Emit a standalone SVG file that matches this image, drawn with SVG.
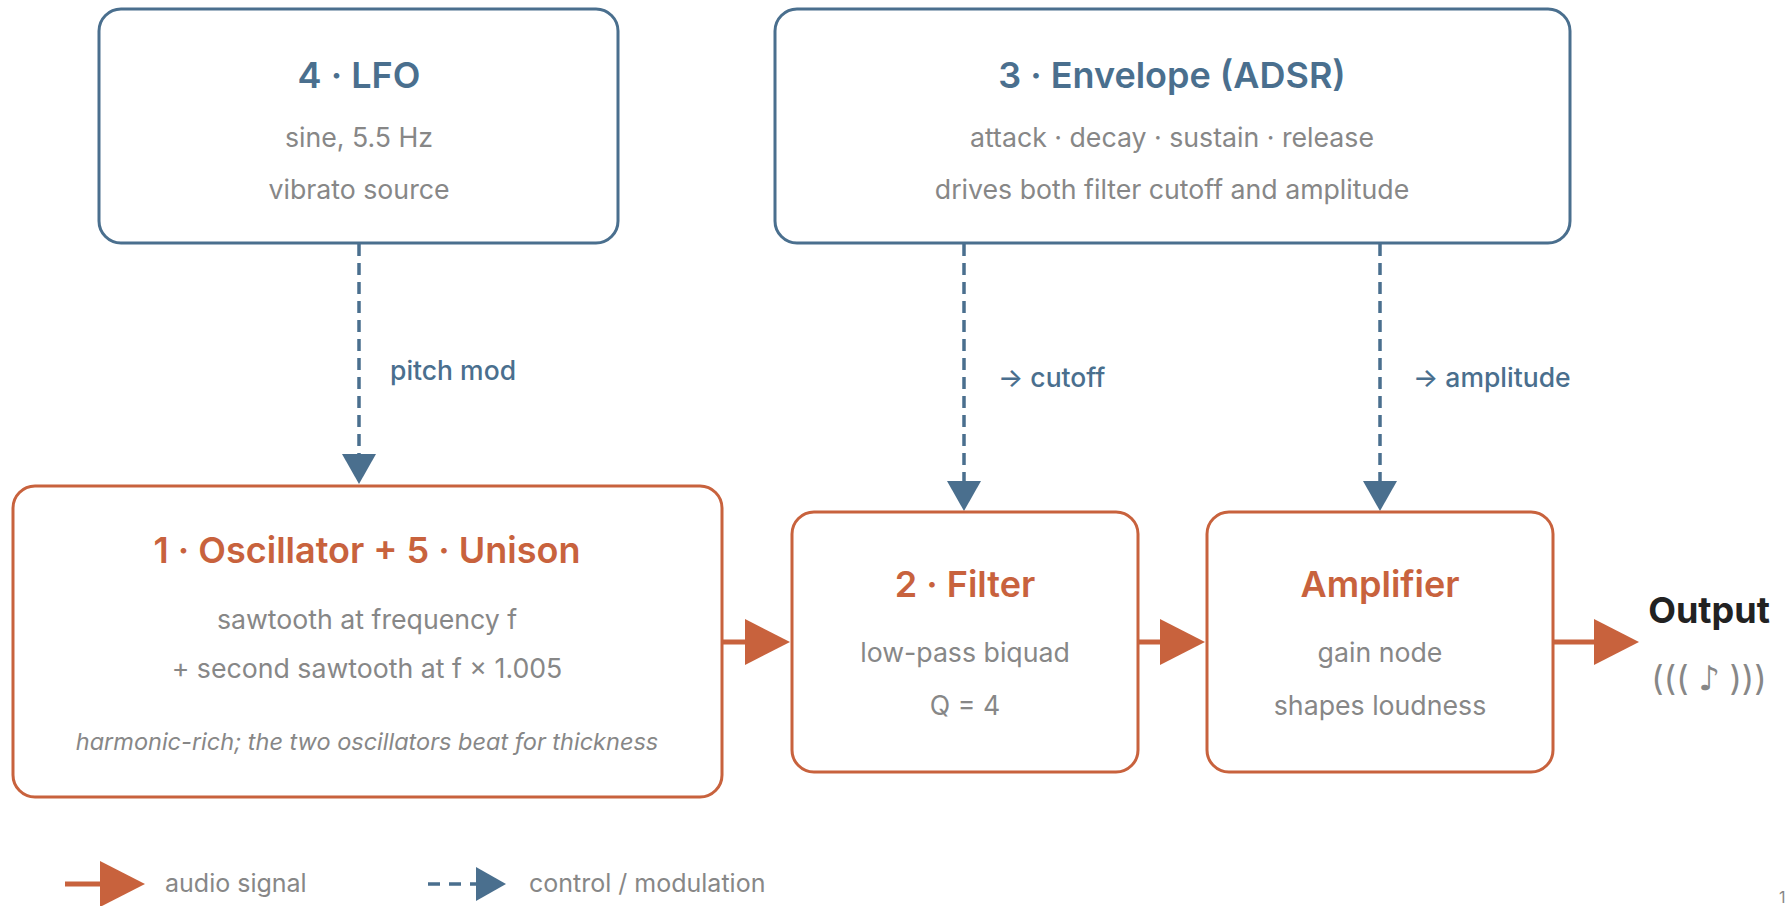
<svg xmlns="http://www.w3.org/2000/svg" width="1785" height="906" viewBox="0 0 1785 906">
<style>
  text { font-family: Inter, "Liberation Sans", Arial, sans-serif; }
  .box-ctl { fill: #ffffff; stroke: #4a6f8e; stroke-width: 3; }
  .box-aud { fill: #ffffff; stroke: #c8623d; stroke-width: 3; }
  .t-ctl { fill: #4a6f8e; font-size: 36px; font-weight: 600; text-anchor: middle; }
  .t-aud { fill: #c8623d; font-size: 36px; font-weight: 600; text-anchor: middle; }
  .sub { fill: #878787; font-size: 26.7px; text-anchor: middle; }
  .note { fill: #878787; font-size: 23.5px; font-style: italic; text-anchor: middle; }
  .lbl { fill: #4a6f8e; font-size: 26.5px; font-weight: 500; }
  .leg { fill: #878787; font-size: 25px; }
  .aud { stroke: #c8623d; stroke-width: 5; fill: none; }
  .ctl { stroke: #4a6f8e; stroke-width: 3.5; fill: none; stroke-dasharray: 12 7; }
</style>
<defs>
  <marker id="ah-aud" markerUnits="userSpaceOnUse" markerWidth="46" markerHeight="46" refX="15" refY="23" orient="auto">
    <path d="M0,0 L45,23 L0,46 Z" fill="#c8623d"/>
  </marker>
  <marker id="ah-ctl" markerUnits="userSpaceOnUse" markerWidth="31" markerHeight="34" refX="16" refY="17" orient="auto">
    <path d="M0,0 L30,17 L0,34 Z" fill="#4a6f8e"/>
  </marker>
</defs>
<rect width="1785" height="906" fill="#ffffff"/>

<g id="connectors">
  <line class="ctl" x1="359" y1="244" x2="359" y2="470" marker-end="url(#ah-ctl)"/>
  <line class="ctl" x1="964" y1="244" x2="964" y2="497" marker-end="url(#ah-ctl)"/>
  <line class="ctl" x1="1380" y1="244" x2="1380" y2="497" marker-end="url(#ah-ctl)"/>
  <line class="aud" x1="723" y1="642" x2="760" y2="642" marker-end="url(#ah-aud)"/>
  <line class="aud" x1="1139" y1="642" x2="1175" y2="642" marker-end="url(#ah-aud)"/>
  <line class="aud" x1="1553" y1="642" x2="1609" y2="642" marker-end="url(#ah-aud)"/>
  <text class="lbl" x="390" y="380">pitch mod</text>
  <text class="lbl" x="998" y="387">→ cutoff</text>
  <text class="lbl" x="1413" y="387">→ amplitude</text>
</g>

<g id="lfo">
  <rect class="box-ctl" x="99" y="9" width="519" height="234" rx="22"/>
  <text class="t-ctl" x="359" y="88">4 · LFO</text>
  <text class="sub" x="359" y="147">sine, 5.5 Hz</text>
  <text class="sub" x="359" y="199">vibrato source</text>
</g>

<g id="envelope">
  <rect class="box-ctl" x="775" y="9" width="795" height="234" rx="22"/>
  <text class="t-ctl" x="1172" y="88">3 · Envelope (ADSR)</text>
  <text class="sub" x="1172" y="147">attack · decay · sustain · release</text>
  <text class="sub" x="1172" y="199">drives both filter cutoff and amplitude</text>
</g>

<g id="oscillator">
  <rect class="box-aud" x="13" y="486" width="709" height="311" rx="22"/>
  <text class="t-aud" x="367" y="563">1 · Oscillator + 5 · Unison</text>
  <text class="sub" x="367" y="629">sawtooth at frequency f</text>
  <text class="sub" x="367" y="678">+ second sawtooth at f × 1.005</text>
  <text class="note" x="367" y="750">harmonic-rich; the two oscillators beat for thickness</text>
</g>

<g id="filter">
  <rect class="box-aud" x="792" y="512" width="346" height="260" rx="22"/>
  <text class="t-aud" x="965" y="597">2 · Filter</text>
  <text class="sub" x="965" y="662">low-pass biquad</text>
  <text class="sub" x="965" y="715">Q = 4</text>
</g>

<g id="amplifier">
  <rect class="box-aud" x="1207" y="512" width="346" height="260" rx="22"/>
  <text class="t-aud" x="1380" y="597">Amplifier</text>
  <text class="sub" x="1380" y="662">gain node</text>
  <text class="sub" x="1380" y="715">shapes loudness</text>
</g>

<g id="output">
  <text x="1709" y="623" fill="#222222" font-size="36" font-weight="700" text-anchor="middle">Output</text>
  <text x="1709" y="690" fill="#878787" font-size="34" text-anchor="middle">((( <tspan font-family="'DejaVu Sans', sans-serif" font-size="34">♪</tspan> )))</text>
</g>

<g id="legend">
  <line class="aud" x1="65" y1="884" x2="115" y2="884" marker-end="url(#ah-aud)"/>
  <text class="leg" x="165" y="892">audio signal</text>
  <line x1="428" y1="884" x2="492" y2="884" stroke="#4a6f8e" stroke-width="3.5" stroke-dasharray="12 9" marker-end="url(#ah-ctl)"/>
  <text class="leg" x="529" y="892">control / modulation</text>
  <text x="1779" y="903" fill="#878787" font-size="16">1</text>
</g>
</svg>
